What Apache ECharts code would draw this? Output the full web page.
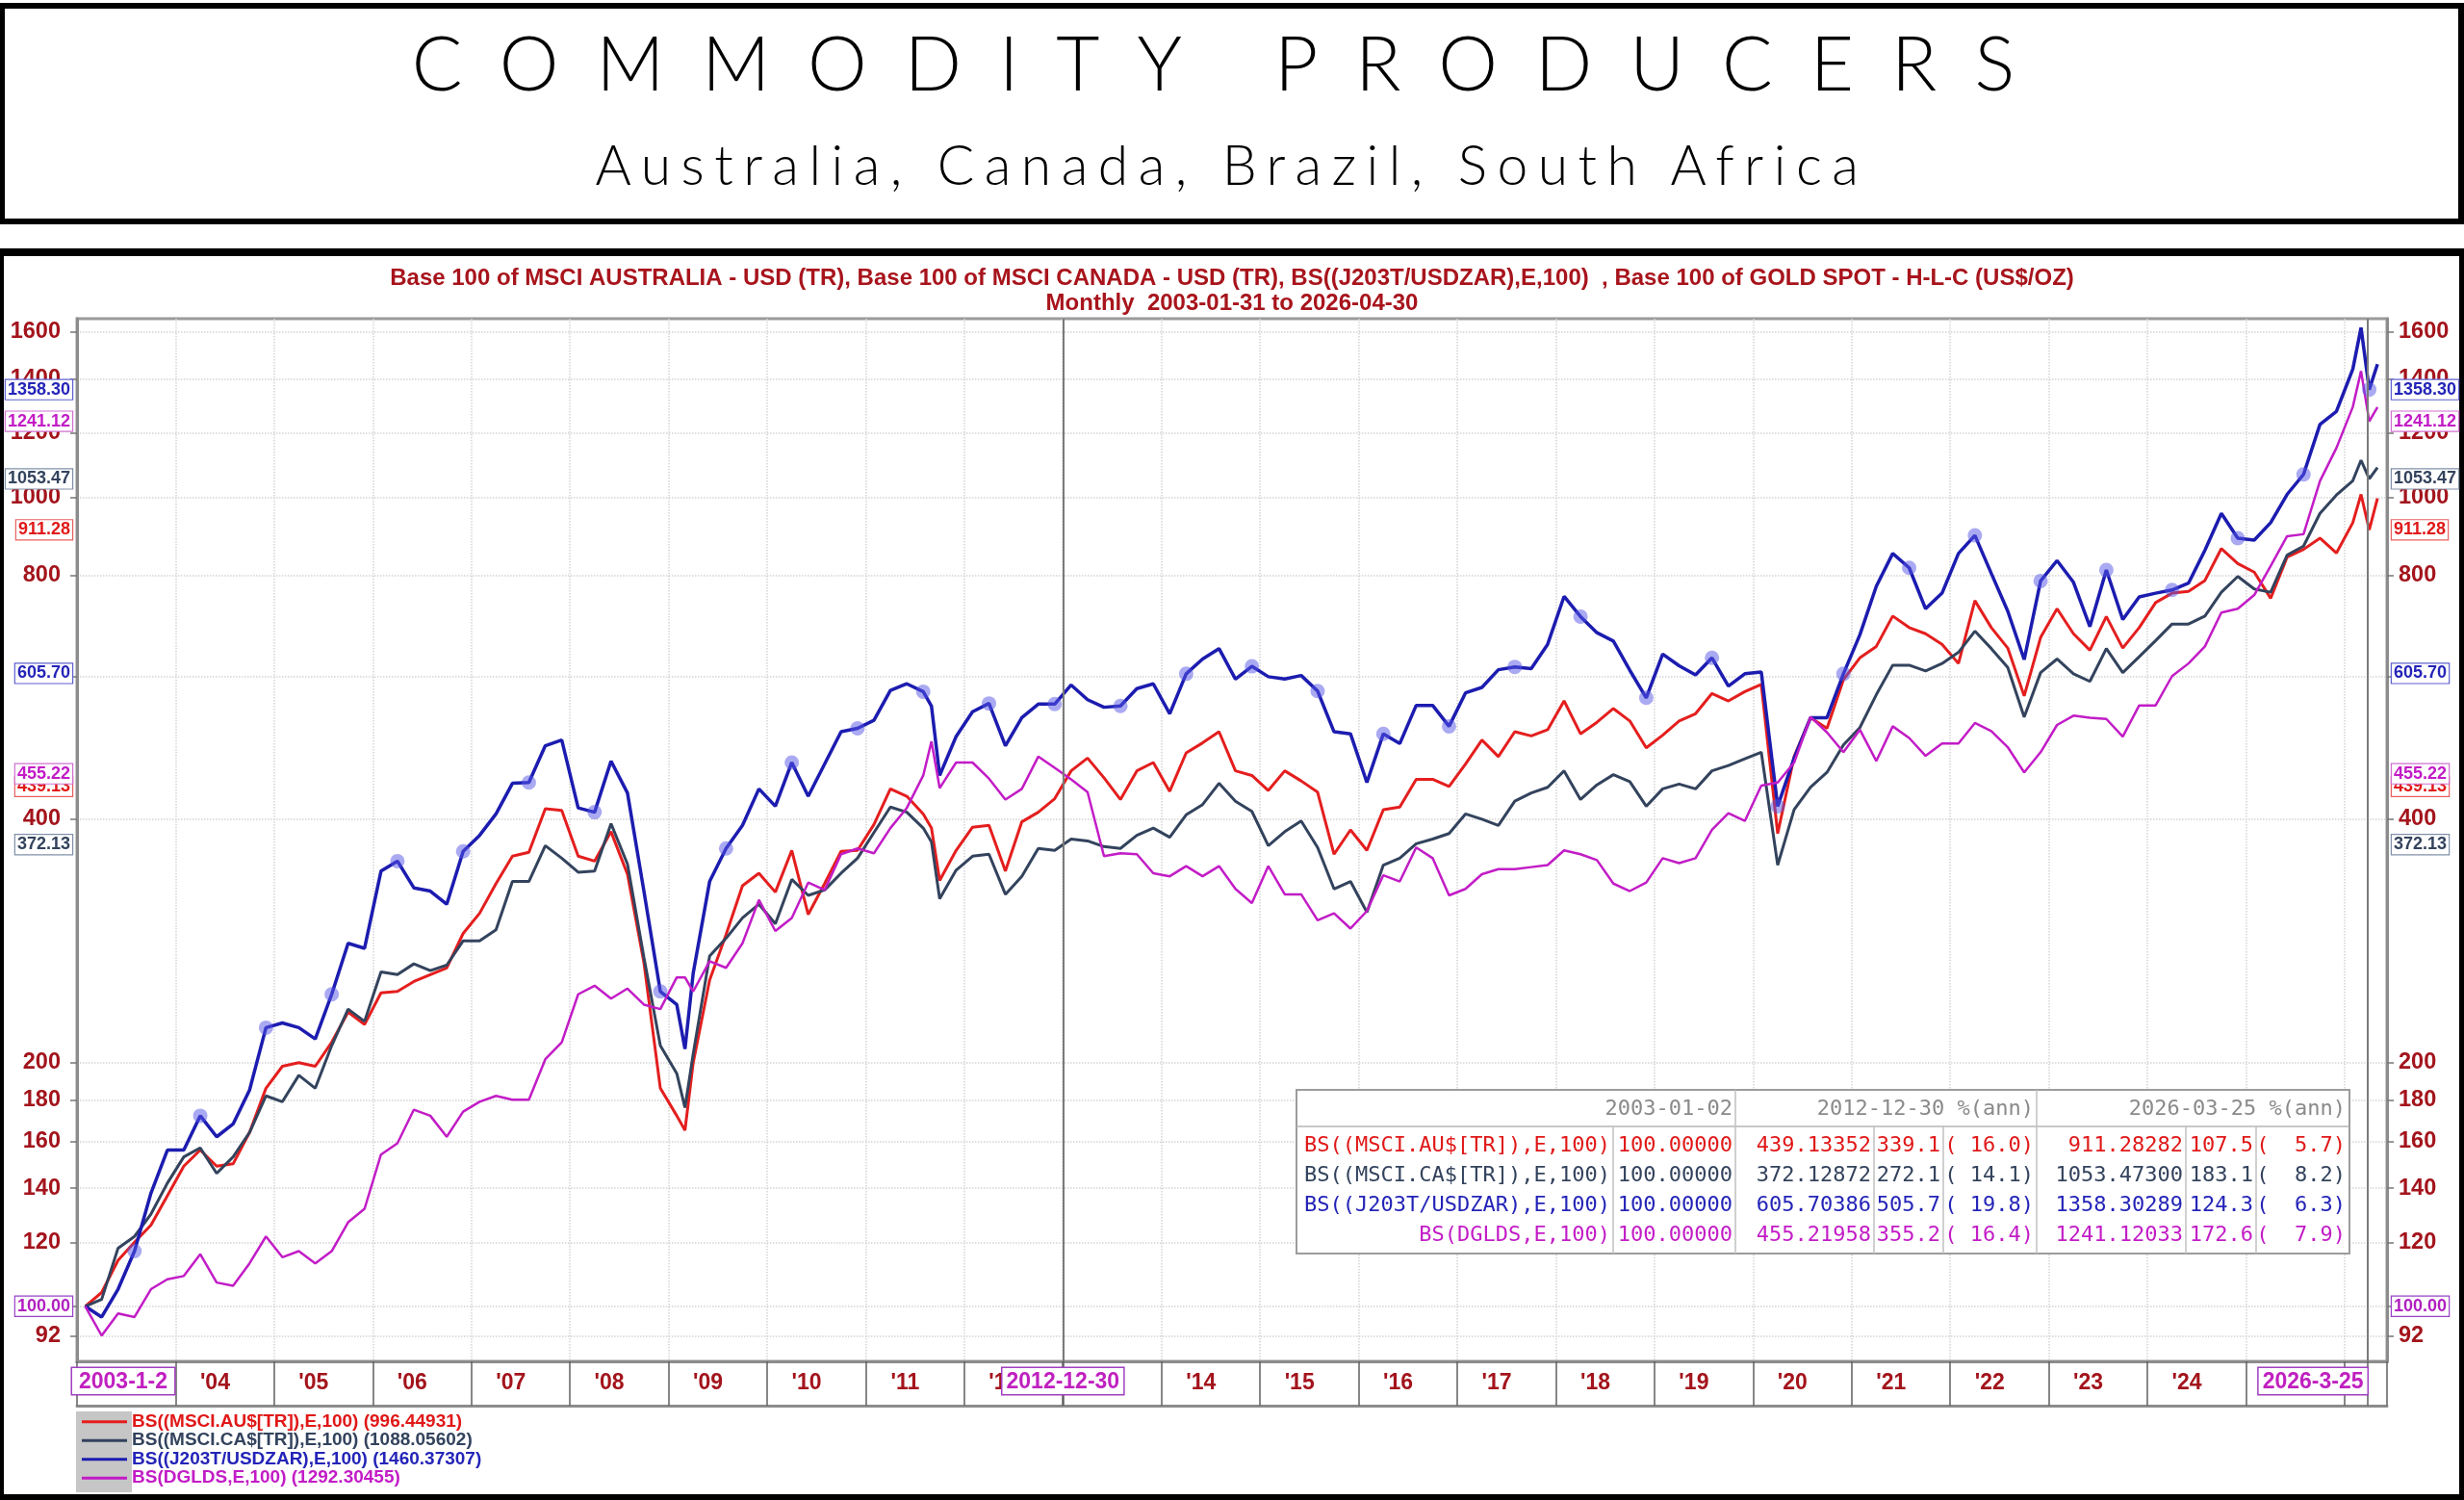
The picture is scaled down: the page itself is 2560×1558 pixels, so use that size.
<!DOCTYPE html>
<html>
<head>
<meta charset="utf-8">
<title>Commodity Producers</title>
<script src="https://cdn.jsdelivr.net/npm/echarts@6.0.0/dist/echarts.min.js"></script>
<style>
  html, body { margin: 0; padding: 0; background: #fff; }
  body { width: 2560px; height: 1558px; position: relative; overflow: hidden; }
  .box { position: absolute; box-sizing: border-box; border: solid #000; }
  #head { left: 0; top: 3px; width: 2560px; height: 230px; border-width: 6px 6px 6px 5px; }
  #frame { left: 0; top: 258px; width: 2560px; height: 1300px; border-width: 8px 5px 6px 4px; }
  .big { position: absolute; left: 0; width: 2560px; text-align: center; white-space: pre;
         font-family: Lato, "Open Sans", sans-serif; font-weight: 300; color: #000; }
  #title { top: 25px; font-size: 78px; line-height: 78px; letter-spacing: 39px; }
  #sub { top: 142px; font-size: 57px; line-height: 57px; letter-spacing: 10.5px; }
  #chart { position: absolute; left: 0; top: 0; width: 2560px; height: 1558px; }
</style>
</head>
<body>
<div class="box" id="head"></div>
<div class="big" id="title">COMMODITY PRODUCERS</div>
<div class="big" id="sub">Australia, Canada, Brazil, South Africa</div>
<div class="box" id="frame"></div>
<div id="chart"></div>
<script>
// month-end closes, every second month (plus a few turning points)
const dates = [
  '2003-01','2003-03','2003-05','2003-07','2003-09','2003-11',
  '2004-01','2004-03','2004-05','2004-07','2004-09','2004-11',
  '2005-01','2005-03','2005-05','2005-07','2005-09','2005-11',
  '2006-01','2006-03','2006-05','2006-07','2006-09','2006-11',
  '2007-01','2007-03','2007-05','2007-07','2007-09','2007-11',
  '2008-01','2008-03','2008-05','2008-07','2008-09','2008-11',
  '2009-01','2009-02','2009-03','2009-05','2009-07','2009-09','2009-11',
  '2010-01','2010-03','2010-05','2010-07','2010-09','2010-11',
  '2011-01','2011-03','2011-05','2011-07','2011-08','2011-09','2011-11',
  '2012-01','2012-03','2012-05','2012-07','2012-09','2012-11',
  '2013-01','2013-03','2013-05','2013-07','2013-09','2013-11',
  '2014-01','2014-03','2014-05','2014-07','2014-09','2014-11',
  '2015-01','2015-03','2015-05','2015-07','2015-09','2015-11',
  '2016-01','2016-03','2016-05','2016-07','2016-09','2016-11',
  '2017-01','2017-03','2017-05','2017-07','2017-09','2017-11',
  '2018-01','2018-03','2018-05','2018-07','2018-09','2018-11',
  '2019-01','2019-03','2019-05','2019-07','2019-09','2019-11',
  '2020-01','2020-03','2020-05','2020-07','2020-09','2020-11',
  '2021-01','2021-03','2021-05','2021-07','2021-09','2021-11',
  '2022-01','2022-03','2022-05','2022-07','2022-09','2022-11',
  '2023-01','2023-03','2023-05','2023-07','2023-09','2023-11',
  '2024-01','2024-03','2024-05','2024-07','2024-09','2024-11',
  '2025-01','2025-03','2025-05','2025-07','2025-09','2025-11',
  '2026-01','2026-02','2026-03','2026-04'
];

const ausTR = [
  100, 104, 114, 120, 126, 137,
  149, 156, 149, 150, 164, 186,
  198, 200, 198, 212, 231, 223,
  244, 245, 252, 257, 262, 289,
  306, 333, 360, 364, 412, 410,
  360, 355, 386, 342, 266, 186,
  172, 165, 200, 253, 288, 331, 343,
  325, 366, 305, 333, 365, 366,
  394, 436, 427, 406, 390, 336, 366,
  391, 393, 345, 397, 408, 424,
  459, 476, 450, 423, 459, 470,
  433, 483, 497, 513, 459, 453,
  434, 459, 446, 432, 362, 388,
  366, 411, 414, 448, 448, 439,
  468, 501, 478, 513, 507, 516,
  560, 510, 527, 548, 529, 490,
  508, 529, 540, 572, 560, 575,
  587, 384, 478, 534, 518, 595,
  633, 654, 713, 690, 678, 658,
  623, 745, 690, 651, 568, 671,
  728, 678, 647, 712, 651, 690,
  741, 761, 765, 789, 864, 828,
  808, 750, 843, 862, 890, 853,
  930, 1008, 911.28, 996.45
];

const canTR = [
  100, 102, 118, 122, 130, 142,
  153, 157, 146, 153, 164, 182,
  179, 193, 186, 210, 233, 225,
  259, 257, 265, 260, 264, 283,
  283, 292, 335, 335, 371, 358,
  344, 345, 395, 352, 270, 210,
  194, 176, 205, 271, 285, 302, 314,
  297, 337, 322, 327, 343, 358,
  385, 414, 408, 390, 375, 319, 346,
  360, 362, 323, 340, 368, 366,
  378, 376, 370, 368, 382, 390,
  380, 405, 417, 443, 421, 409,
  371, 386, 398, 369, 328, 335,
  307, 351, 358, 373, 378, 384,
  406, 400, 393, 421, 431, 438,
  459, 423, 441, 454, 445, 415,
  436, 442, 436, 459, 466, 475,
  484, 351, 411, 438, 457, 494,
  519, 570, 620, 620, 610, 623,
  643, 683, 650, 616, 535, 607,
  631, 605, 592, 650, 607, 635,
  665, 697, 697, 713, 763, 798,
  770, 763, 848, 870, 955, 1006,
  1048, 1111, 1053.47, 1088.06
];

const zarTR = [
  100, 97, 105, 117, 138, 156,
  156, 172, 162, 168, 185, 221,
  224, 221, 214, 243, 281, 277,
  345, 355, 329, 326, 314, 365,
  382, 406, 443, 444, 493, 501,
  413, 408, 472, 431, 326, 245,
  236, 208, 258, 335, 368, 393, 436,
  415, 470, 427, 468, 513, 518,
  530, 577, 588, 575, 552, 453, 506,
  543, 556, 493, 534, 555, 555,
  586, 562, 550, 552, 580, 588,
  540, 605, 631, 650, 596, 618,
  600, 596, 602, 576, 513, 510,
  444, 510, 496, 553, 553, 521,
  573, 582, 612, 617, 614, 658,
  754, 712, 680, 664, 611, 565,
  640, 619, 603, 633, 584, 605,
  608, 415, 476, 534, 534, 605,
  676, 776, 852, 818, 728, 761,
  852, 897, 805, 723, 630, 788,
  835, 785, 692, 813, 706, 753,
  761, 768, 783, 860, 955, 890,
  885, 930, 1008, 1067, 1230, 1276,
  1440, 1620, 1358.3, 1460.37
];

const gold = [
  100, 92, 98, 97, 105, 108,
  109, 116, 107, 106, 113, 122,
  115, 117, 113, 117, 127, 132,
  154, 159, 175, 172, 162, 174,
  179, 182, 180, 180, 202, 212,
  243, 249, 240, 247, 236, 233,
  255, 255, 245, 267, 262, 281, 318,
  291, 302, 334, 327, 362, 368,
  363, 390, 413, 453, 499, 437, 470,
  470, 449, 423, 436, 478, 463,
  448, 432, 360, 363, 362, 343,
  340, 350, 340, 350, 328, 315,
  350, 323, 323, 300, 306, 293,
  308, 341, 335, 369, 358, 322,
  328, 342, 347, 347, 349, 351,
  366, 362, 356, 333, 326, 334,
  358, 353, 358, 388, 407, 398,
  440, 444, 470, 535, 512, 484,
  516, 472, 521, 504, 479, 496,
  496, 526, 514, 491, 457, 484,
  523, 537, 534, 532, 506, 553,
  553, 601, 623, 654, 720, 728,
  757, 822, 895, 900, 1047, 1150,
  1293, 1432, 1241.12, 1292.3
];

const seriesNames = ['BS((MSCI.AU$[TR]),E,100)', 'BS((MSCI.CA$[TR]),E,100)', 'BS((J203T/USDZAR),E,100)', 'BS(DGLDS,E,100)'];
const lastValues = ['996.44931', '1088.05602', '1460.37307', '1292.30455'];

// statistics table / cursor values
const startDate = '2003-01-02';
const cursorDates = ['2012-12-30', '2026-03-25'];
const cursorLabels = ['2012-12-30', '2026-3-25'];
const startValues = [100, 100, 100, 100];
const midValues = [439.13352, 372.12872, 605.70386, 455.21958];
const midChange = [339.1, 272.1, 505.7, 355.2];
const midAnn = [16.0, 14.1, 19.8, 16.4];
const endValues = [911.28282, 1053.47300, 1358.30289, 1241.12033];
const endChange = [107.5, 183.1, 124.3, 172.6];
const endAnn = [5.7, 8.2, 6.3, 7.9];

const yTicks = [92, 100, 120, 140, 160, 180, 200, 400, 600, 800, 1000, 1200, 1400, 1600];
const yearLabels = ["'04", "'05", "'06", "'07", "'08", "'09", "'10", "'11", "'12", "'13", "'14",
  "'15", "'16", "'17", "'18", "'19", "'20", "'21", "'22", "'23", "'24", "'25"];

const chartTitle = [
  'Base 100 of MSCI AUSTRALIA - USD (TR), Base 100 of MSCI CANADA - USD (TR), BS((J203T/USDZAR),E,100)  , Base 100 of GOLD SPOT - H-L-C (US$/OZ)',
  'Monthly  2003-01-31 to 2026-04-30'
];

const FONT = '"Liberation Sans", Arial, sans-serif';
const MONO = '"DejaVu Sans Mono", monospace';
const AXIS_RED = '#a3141c';
const lineColors = ['#e41e1e', '#33435d', '#1c1cb0', '#c21cc6'];
const lineWidths = [3, 3, 3.5, 2.5];
const flagText = ['#e01818', '#33435d', '#2424b8', '#c21cc6'];
const flagBorder = ['#e86060', '#8090a8', '#6060d0', '#d070d0'];
const HIDDEN_LINE = { color: 'rgba(0,0,0,0)', width: 1 };

// 'YYYY-MM' = month end, 'YYYY-MM-DD' = that day
function toT(s) {
  const [y, m, d] = s.split('-').map(Number);
  const dim = new Date(y, m, 0).getDate();
  return y + (m - 1) / 12 + (d || dim) / dim / 12;
}
function monthIdx(s) {
  const [y, m] = s.split('-').map(Number);
  return (y - 2003) * 12 + m - 1;
}

const xs = dates.map(toT);
const valueSets = [ausTR, canTR, zarTR, gold];
const X_MIN = 2003, X_MAX = 2026.43;

const flagLabel = (i) => ({
  show: true, opacity: 1,
  color: flagText[i], fontFamily: FONT, fontWeight: 'bold', fontSize: 18,
  backgroundColor: '#fff', borderColor: flagBorder[i], borderWidth: 1.2,
  padding: [2, 2, 0, 2], distance: 5,
  formatter: (p) => Number(p.value).toFixed(2)
});

function flags(i) {
  const out = [];
  [midValues[i], endValues[i]].forEach((v) => {
    ['start', 'end'].forEach((pos) => {
      out.push({ yAxis: v, lineStyle: HIDDEN_LINE, label: Object.assign(flagLabel(i), { position: pos }) });
    });
  });
  return out;
}

const cursorLabelStyle = {
  show: true, position: 'start', distance: 7, color: '#c020c0', fontFamily: FONT, fontWeight: 'bold', fontSize: 23,
  backgroundColor: '#fff', borderColor: '#a040c0', borderWidth: 1.5, padding: [3, 4, 1, 4]
};

const series = valueSets.map((vals, i) => {
  const s = {
    name: seriesNames[i],
    type: 'line',
    symbol: 'none',
    showSymbol: true,
    showAllSymbol: true,
    smooth: false,
    animation: false,
    lineStyle: { color: lineColors[i], width: lineWidths[i] },
    itemStyle: { color: lineColors[i] },
    data: vals.map((v, k) => [xs[k], v]),
    markLine: {
      silent: true, symbol: ['none', 'none'], animation: false,
      lineStyle: { color: '#7a7a7a', width: 2, type: 'solid' },
      data: flags(i)
    }
  };
  if (i === 0) {
    // cursor lines with their date boxes on the time axis
    cursorDates.forEach((d, c) => {
      s.markLine.data.unshift({
        xAxis: toT(d),
        lineStyle: { color: '#7a7a7a', width: 2, type: 'solid' },
        label: Object.assign({}, cursorLabelStyle, {
          formatter: cursorLabels[c], align: c === 1 ? 'right' : 'center'
        })
      });
    });
  }
  if (i === 2) {
    // highlighted points every 8 months
    s.data = vals.map((v, k) => {
      const m = monthIdx(dates[k]);
      if (m >= 6 && (m - 6) % 8 === 0) {
        return { value: [xs[k], v], symbol: 'circle', symbolSize: 15, itemStyle: { color: 'rgba(85,85,230,0.5)' } };
      }
      return [xs[k], v];
    });
  }
  if (i === 3) {
    ['start', 'end'].forEach((pos) => {
      s.markLine.data.push({
        yAxis: startValues[3], lineStyle: HIDDEN_LINE,
        label: Object.assign(flagLabel(3), { position: pos, color: '#b020c0', borderColor: '#9a40c8' })
      });
    });
  }
  return s;
});

// band separators: year starts, both cursors and the right edge
const bandTicks = [];
for (let y = 2003; y <= 2026; y++) bandTicks.push(y);
bandTicks.push(toT(cursorDates[0]), toT(cursorDates[1]), X_MAX);
const labelPos = yearLabels.map((l) => 2000 + Number(l.slice(1)) + 0.4);

const axisText = { color: AXIS_RED, fontFamily: FONT, fontWeight: 'bold' };
const gridDots = { color: '#d4d4d4', type: 'dotted', width: 1.5 };

const yAxisBase = {
  type: 'log', logBase: 10, min: 85.5, max: 1662,
  axisLine: { show: true, lineStyle: { color: '#8c8c8c', width: 3 } },
  axisTick: { show: true, customValues: yTicks, length: 7, lineStyle: { color: '#777', width: 1.5 } },
  axisLabel: Object.assign({ customValues: yTicks, fontSize: 23.5, margin: 17, formatter: (v) => String(Math.round(v)) }, axisText),
  minorTick: { show: false },
  minorSplitLine: { show: false }
};

// statistics table inside the plot
const TBL = { x: 1347, y: 1132, w: 1094, h: 170, headY: 1152, headLine: 1170, row0: 1190, rowH: 31 };
const colRight = [1673, 1800, 1944, 2016, 2113, 2268, 2341, 2437];
const colSep = [1676, 1803, 1947, 2019, 2116, 2271, 2344];
const tableEls = [];
tableEls.push({ type: 'rect', z: 50, shape: { x: TBL.x, y: TBL.y, width: TBL.w, height: TBL.h },
  style: { fill: '#fff', stroke: '#9c9c9c', lineWidth: 2 } });
tableEls.push({ type: 'line', z: 51, shape: { x1: TBL.x, y1: TBL.headLine, x2: TBL.x + TBL.w, y2: TBL.headLine },
  style: { stroke: '#b4b4b4', lineWidth: 1.5 } });
colSep.forEach((x) => {
  const full = x === 1803 || x === 2116;
  tableEls.push({ type: 'line', z: 51, shape: { x1: x, y1: full ? TBL.y : TBL.headLine, x2: x, y2: TBL.y + TBL.h },
    style: { stroke: '#c0c0c0', lineWidth: 1.5 } });
});
const cellText = (text, x, y, color) => ({
  type: 'text', z: 52,
  style: { text, x, y, align: 'right', verticalAlign: 'middle', font: '22px ' + MONO, fill: color }
});
tableEls.push(cellText(startDate, colRight[1], TBL.headY, '#8a8a8a'));
tableEls.push(cellText(cursorDates[0] + ' %(ann)', colRight[4], TBL.headY, '#8a8a8a'));
tableEls.push(cellText(cursorDates[1] + ' %(ann)', colRight[7], TBL.headY, '#8a8a8a'));
seriesNames.forEach((name, r) => {
  const y = TBL.row0 + r * TBL.rowH;
  const cells = [
    name,
    startValues[r].toFixed(5),
    midValues[r].toFixed(5),
    midChange[r].toFixed(1),
    '(' + midAnn[r].toFixed(1).padStart(5) + ')',
    endValues[r].toFixed(5),
    endChange[r].toFixed(1),
    '(' + endAnn[r].toFixed(1).padStart(5) + ')'
  ];
  cells.forEach((t, c) => tableEls.push(cellText(t, colRight[c], y, flagText[r])));
});

const chart = echarts.init(document.getElementById('chart'), null, { renderer: 'canvas' });
chart.setOption({
  animation: false,
  backgroundColor: 'transparent',
  title: {
    text: chartTitle.join('\n'),
    left: 'center', top: 271,
    textStyle: { color: '#a8141c', fontFamily: FONT, fontWeight: 'bold', fontSize: 24, lineHeight: 26 }
  },
  legend: {
    orient: 'vertical', left: 85, top: 1467, padding: 0,
    icon: 'rect', itemWidth: 47, itemHeight: 3, itemGap: 0, selectedMode: false,
    data: seriesNames.map((n, i) => ({ name: n, textStyle: { color: flagText[i] } })),
    formatter: (n) => n + ' (' + lastValues[seriesNames.indexOf(n)] + ')',
    textStyle: { fontFamily: FONT, fontSize: 19, fontWeight: 'bold', lineHeight: 19.5 }
  },
  grid: {
    left: 80, right: 80, top: 331, bottom: 144,
    show: true, borderColor: '#9a9a9a', borderWidth: 3, backgroundColor: 'transparent',
    outerBoundsMode: 'none', containLabel: false
  },
  xAxis: [{
    type: 'value', min: X_MIN, max: X_MAX, interval: 1,
    axisLine: { show: true, onZero: false, lineStyle: { color: '#8c8c8c', width: 3 } },
    axisTick: { show: true, customValues: bandTicks, length: 46, lineStyle: { color: '#606060', width: 1.5 } },
    axisLabel: Object.assign({
      customValues: labelPos, fontSize: 23, margin: 11,
      formatter: (v) => yearLabels[Math.round(v - 0.4) - 2004] || ''
    }, axisText),
    splitLine: { show: true, lineStyle: gridDots }
  }, {
    type: 'value', min: X_MIN, max: X_MAX, position: 'bottom', offset: 46,
    axisLine: { show: true, onZero: false, lineStyle: { color: '#8c8c8c', width: 3 } },
    axisTick: { show: false }, axisLabel: { show: false }, splitLine: { show: false }
  }],
  yAxis: [
    Object.assign({}, yAxisBase, { position: 'left', splitLine: { show: true, lineStyle: gridDots } }),
    Object.assign({}, yAxisBase, { position: 'right', splitLine: { show: false },
      axisLabel: Object.assign({}, yAxisBase.axisLabel, { margin: 12 }) })
  ],
  graphic: [
    { type: 'rect', z: 1, shape: { x: 79, y: 1466, width: 58, height: 84 }, style: { fill: '#c6c6c6' } },
    { type: 'text', z: 60,
      style: { text: startDate.replace(/-0/g, '-'), x: 75, y: 1421, align: 'left', verticalAlign: 'top',
        font: 'bold 23px ' + FONT, fill: '#c020c0', backgroundColor: '#fff',
        borderColor: '#a040c0', borderWidth: 1.5, padding: [3, 7, 1, 7] } }
  ].concat(tableEls),
  series: series
});
</script>
</body>
</html>
